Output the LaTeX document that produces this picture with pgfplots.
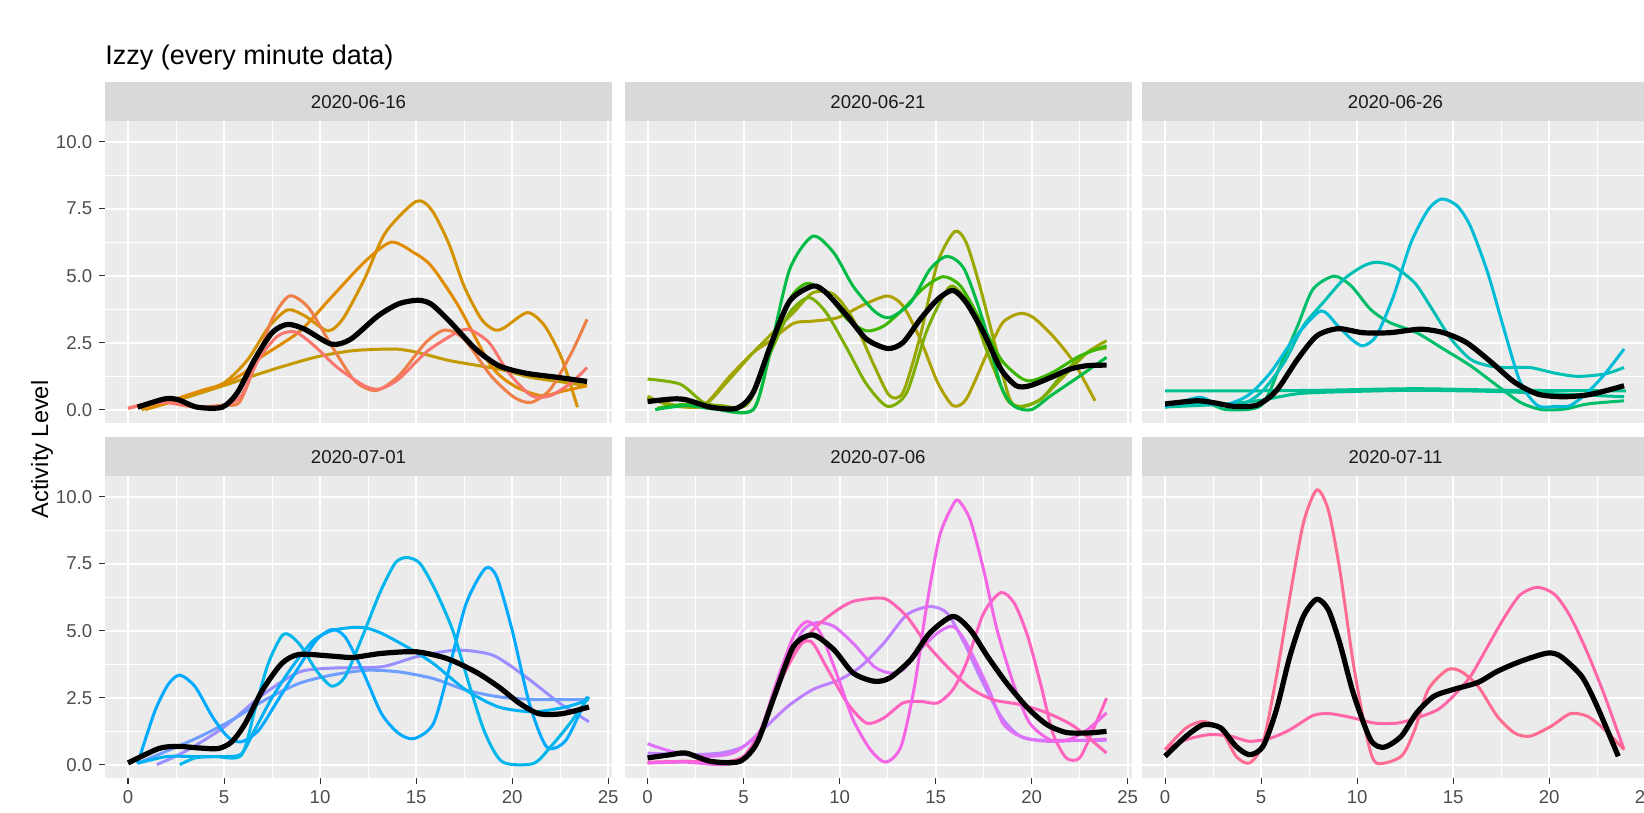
\documentclass[border=0pt]{standalone}
\usepackage{fontspec}
\setmainfont{Liberation Sans}
\usepackage{pgfplots}
\pgfplotsset{compat=1.18}

\definecolor{panelbg}{HTML}{EBEBEB}
\definecolor{stripbg}{HTML}{D9D9D9}
\definecolor{ticktxt}{HTML}{4D4D4D}
\definecolor{tickgray}{HTML}{333333}
\definecolor{striptxt}{HTML}{1A1A1A}
% panel 1
\definecolor{c11}{HTML}{F8766D}
\definecolor{c12}{HTML}{EE7F47}
\definecolor{c13}{HTML}{E08B00}
\definecolor{c14}{HTML}{D49200}
\definecolor{c15}{HTML}{C39B00}
% panel 2
\definecolor{c21}{HTML}{AEA200}
\definecolor{c22}{HTML}{99A800}
\definecolor{c23}{HTML}{7CAE00}
\definecolor{c24}{HTML}{3DB600}
\definecolor{c25}{HTML}{00BB45}
% panel 3
\definecolor{c31}{HTML}{00BE6C}
\definecolor{c32}{HTML}{00C091}
\definecolor{c33}{HTML}{00C0B5}
\definecolor{c34}{HTML}{00BCD6}
% panel 4
\definecolor{c41}{HTML}{00B6EB}
\definecolor{c42}{HTML}{00AAFE}
\definecolor{c43}{HTML}{00B1F3}
\definecolor{c44}{HTML}{6E9EFF}
\definecolor{c45}{HTML}{9A8FFF}
% panel 5
\definecolor{c51}{HTML}{F365E6}
\definecolor{c52}{HTML}{FF62BF}
\definecolor{c53}{HTML}{FF63B5}
\definecolor{c54}{HTML}{BE80FF}
\definecolor{c55}{HTML}{DE71F8}
% panel 6
\definecolor{c61}{HTML}{FF6C91}
\definecolor{c62}{HTML}{FF66A8}

\pgfplotsset{
  facet/.style={
    scale only axis, width=253.5pt, height=151pt,
    xmin=-1.2, xmax=25.2, ymin=-0.5, ymax=10.77,
    axis line style={draw=none},
    axis background/.style={fill=panelbg},
    xtick={0,5,10,15,20,25}, ytick={0,2.5,5,7.5,10},
    minor xtick={2.5,7.5,12.5,17.5,22.5},
    minor ytick={1.25,3.75,6.25,8.75},
    grid=both,
    major grid style={draw=white, line width=1.0pt},
    minor grid style={draw=white, line width=0.55pt},
    minor tick length=0pt,
    major tick length=2.9pt,
    tick align=outside,
    xtick pos=left, ytick pos=left,
    xtick style={draw=none}, ytick style={draw=none},
    xticklabels={}, yticklabels={},
    tick label style={font=\fontsize{9.3}{11}\selectfont, text=ticktxt},
    /pgf/number format/assume math mode=true,
    clip=true,
  },
  ylab/.style={yticklabels={0.0,2.5,5.0,7.5,10.0},
    ytick style={draw=tickgray, line width=0.55pt}},
  xlab/.style={xticklabels={0,5,10,15,20,25},
    xtick style={draw=tickgray, line width=0.55pt}},
  ser/.style={color=#1, line width=1.5pt, smooth, tension=0.45, no markers, line join=round},
  meanline/.style={color=black, line width=2.6pt, smooth, tension=0.45, no markers, line join=round},
}

\newcommand{\strip}[3]{%
  \fill[stripbg] (#1,#2) rectangle ($(#1,#2)+(253.5pt,-19.5pt)$);
  \node[font=\fontsize{9.3}{11}\selectfont, text=striptxt] at ($(#1,#2)+(126.75pt,-9.9pt)$) {#3};
}
\usetikzlibrary{calc}

\begin{document}
\begin{tikzpicture}
\path[use as bounding box] (0pt,0pt) rectangle (822pt,-406.5pt);
\clip (0pt,0pt) rectangle (822pt,-406.5pt);

\node[anchor=base west, font=\fontsize{13.5}{16}\selectfont, inner sep=0pt] at (52.5pt,-32.5pt) {Izzy (every minute data)};
\node[rotate=90, font=\fontsize{11.8}{14}\selectfont, inner sep=0pt] at (21pt,-224.75pt) {Activity Level};

\strip{52.5pt}{-41pt}{2020-06-16}
\strip{312.25pt}{-41pt}{2020-06-21}
\strip{571pt}{-41pt}{2020-06-26}
\strip{52.5pt}{-218.5pt}{2020-07-01}
\strip{312.25pt}{-218.5pt}{2020-07-06}
\strip{571pt}{-218.5pt}{2020-07-11}

% ---------- Panel 1: 2020-06-16
\begin{axis}[facet, ylab, at={(52.5pt,-60.5pt)}, anchor=north west]
\addplot[ser=c15] coordinates {(0.9,0)(2.8,0.4)(5,0.9)(6.25,1.2)(8,1.6)(9.9,1.98)(11.6,2.19)(13,2.25)(14.1,2.25)(15.1,2.13)(16.8,1.82)(19.3,1.51)(21,1.2)(22.7,1.02)(23.9,0.89)};
\addplot[ser=c14] coordinates {(0.7,0.0)(2,0.25)(3.5,0.6)(5,1.0)(6.25,1.88)(7.3,3.06)(8.3,3.72)(9.2,3.5)(10.4,2.94)(11.2,3.4)(12.3,4.86)(13.4,6.6)(15,7.77)(15.8,7.46)(16.7,6.2)(17.5,4.6)(18.4,3.37)(19.1,2.97)(19.6,3.06)(20.8,3.62)(21.7,3.12)(22.6,1.88)(23.4,0.09)};
\addplot[ser=c13] coordinates {(0.9,0.02)(2.5,0.4)(4,0.75)(5,0.95)(6.1,1.4)(6.8,1.9)(8.9,2.9)(10.6,4.2)(12.3,5.5)(13.7,6.25)(14.9,5.85)(15.8,5.35)(17.2,3.87)(18.9,1.64)(20.1,0.89)(21.5,0.52)(22.7,0.7)(23.9,0.89)};
\addplot[ser=c12] coordinates {(0,0.05)(1.6,0.33)(2.6,0.2)(3.6,0.09)(5,0.17)(5.8,0.27)(6.6,1.64)(7.5,3.37)(8.4,4.24)(9.4,3.8)(10.6,2.38)(11.8,1.08)(12.9,0.71)(14.1,1.26)(15.5,2.5)(16.5,2.97)(17.5,2.63)(18.9,1.26)(20.1,0.46)(21.0,0.27)(22.0,0.77)(23.1,2.13)(23.9,3.37)};
\addplot[ser=c11] coordinates {(0,0.05)(1,0.2)(1.9,0.27)(3,0.15)(3.6,0.1)(5,0.15)(5.9,0.52)(6.8,1.88)(7.8,2.75)(8.7,2.9)(9.7,2.38)(10.9,1.57)(12.3,0.89)(13.1,0.77)(14.1,1.14)(15.5,2.13)(16.8,2.75)(17.7,3.0)(18.8,2.5)(19.8,1.39)(21.0,0.52)(22,0.52)(23.1,1.02)(23.9,1.57)};
\addplot[meanline] coordinates {(0.5,0.09)(1.9,0.4)(2.6,0.37)(3.6,0.09)(4.9,0.09)(5.7,0.64)(6.6,1.88)(7.5,2.87)(8.3,3.18)(9.2,3.0)(10.6,2.44)(11.6,2.63)(13.0,3.49)(14.1,3.95)(15.1,4.08)(15.8,3.93)(16.8,3.25)(18.1,2.26)(19.3,1.64)(20.7,1.36)(22.4,1.2)(23.9,1.05)};
\end{axis}

% ---------- Panel 2: 2020-06-21
\begin{axis}[facet, at={(312.25pt,-60.5pt)}, anchor=north west]
\addplot[ser=c21] coordinates {(0,0.45)(1.5,0.15)(2.9,0.15)(4.3,1.26)(5.5,2.13)(6.4,2.57)(7.6,3.22)(8.6,3.3)(9.9,3.43)(11.3,3.93)(12.5,4.24)(13.3,3.87)(14.2,2.63)(15.1,1.02)(15.9,0.15)(16.6,0.4)(17.7,2.13)(18.5,3.25)(19.4,3.59)(20.1,3.43)(21.1,2.75)(22.2,1.76)(23.3,0.33)};
\addplot[ser=c22] coordinates {(0,0.5)(1.2,0.15)(2.9,0.15)(4.1,1.0)(5.5,2.13)(6.7,3.0)(7.6,3.62)(8.6,4.36)(9.7,4.3)(10.7,3.37)(11.8,1.64)(12.6,0.52)(13.3,0.64)(14.2,2.75)(15.1,5.48)(16.0,6.65)(16.6,6.22)(17.3,4.61)(18.2,2.13)(18.9,0.33)(19.6,0.12)(20.5,0.4)(21.7,1.26)(22.9,2.13)(23.9,2.57)};
\addplot[ser=c23] coordinates {(0,1.14)(1.7,0.95)(2.9,0.27)(3.8,0.15)(5.2,0.2)(6.4,2.13)(7.4,3.62)(8.4,4.18)(9.3,3.62)(10.4,2.26)(11.4,0.95)(12.5,0.12)(13.5,0.64)(14.5,2.87)(15.4,4.24)(15.9,4.61)(16.8,3.87)(17.7,2.13)(18.7,0.4)(19.4,0.12)(20.5,0.4)(21.7,1.39)(22.9,2.13)(23.9,2.3)};
\addplot[ser=c24] coordinates {(0.5,0.05)(2,0.2)(3.5,0.05)(5.5,0)(6.4,2.13)(7.4,4.11)(8.3,4.71)(9.3,4.36)(10.4,3.37)(11.4,2.94)(12.3,3.12)(13.3,3.74)(14.4,4.55)(15.4,4.96)(16.3,4.61)(17.3,3.37)(18.4,1.88)(19.4,1.2)(20,1.08)(21.1,1.39)(22.5,2.0)(23.9,2.38)};
\addplot[ser=c25] coordinates {(0.4,0)(2,0.15)(3.5,0.02)(5.5,0)(6.4,2.26)(7.4,5.23)(8.6,6.47)(9.7,5.85)(10.7,4.61)(11.8,3.68)(12.6,3.43)(13.7,3.99)(14.7,5.23)(15.6,5.72)(16.5,5.23)(17.5,3.25)(18.4,0.89)(19.1,0.12)(20,0)(21,0.52)(22.4,1.2)(23.9,1.95)};
\addplot[meanline] coordinates {(0,0.3)(1.35,0.4)(2.05,0.36)(3.3,0.09)(4.65,0.05)(5.5,0.64)(6.4,2.38)(7.4,4.05)(8.6,4.61)(9.3,4.36)(10.4,3.49)(11.4,2.63)(12.5,2.28)(13.3,2.5)(14.2,3.37)(15.1,4.11)(15.9,4.45)(16.6,3.99)(17.5,2.87)(18.4,1.51)(19.2,0.89)(19.9,0.89)(21.0,1.2)(22.0,1.51)(22.9,1.64)(23.9,1.66)};
\end{axis}

% ---------- Panel 3: 2020-06-26
\begin{axis}[facet, at={(571pt,-60.5pt)}, anchor=north west]
\addplot[ser=c31] coordinates {(0,0.09)(2,0.27)(3.2,0)(5,0.15)(6,1.64)(6.9,3.12)(7.7,4.49)(8.8,4.98)(9.7,4.61)(10.7,3.74)(11.7,3.25)(13.1,2.87)(14.5,2.26)(15.9,1.64)(17.3,0.89)(18.5,0.27)(19.6,0)(20.8,0.02)(22,0.21)(23.9,0.33)};
\addplot[ser=c32] coordinates {(0,0.7)(4,0.7)(8,0.72)(13,0.78)(18,0.72)(24,0.7)};
\addplot[ser=c32] coordinates {(0,0.1)(3,0.2)(5,0.35)(7,0.6)(10,0.68)(13,0.72)(17,0.68)(20,0.6)(23.9,0.48)};
\addplot[ser=c33] coordinates {(0,0.15)(2,0.2)(3.8,0.15)(5,0.64)(6.2,1.76)(7.2,3.12)(8.3,4.05)(9.3,4.86)(10.3,5.35)(11,5.5)(11.9,5.35)(13,4.73)(13.8,3.87)(14.9,2.63)(15.9,1.88)(16.8,1.64)(17.7,1.57)(19,1.57)(20.3,1.36)(21.5,1.24)(22.9,1.33)(23.9,1.57)};
\addplot[ser=c34] coordinates {(0,0.09)(1.8,0.46)(2.9,0.15)(4.3,0.52)(5.5,1.39)(6.7,2.63)(8.1,3.68)(9,3.12)(9.7,2.63)(10.3,2.38)(11,2.75)(11.9,4.24)(12.8,6.22)(13.7,7.46)(14.4,7.86)(15.2,7.61)(15.9,6.84)(16.8,5.11)(17.7,2.87)(18.5,1.02)(19.4,0.15)(20.4,0.12)(21.1,0.15)(22,0.64)(22.9,1.33)(23.9,2.26)};
\addplot[meanline] coordinates {(0,0.21)(1.65,0.33)(2.6,0.25)(3.6,0.12)(4.8,0.17)(5.8,0.71)(6.9,1.88)(7.9,2.75)(9,3.02)(10.3,2.87)(11.7,2.87)(13.3,3.0)(14.5,2.87)(15.7,2.5)(17,1.76)(18.2,1.02)(19.4,0.58)(20.6,0.48)(21.7,0.52)(22.5,0.62)(23.9,0.89)};
\end{axis}

% ---------- Panel 4: 2020-07-01
\begin{axis}[facet, ylab, xlab, at={(52.5pt,-238pt)}, anchor=north west]
\addplot[ser=c45] coordinates {(1.5,0)(3,0.5)(5,1.4)(7,2.6)(8.9,3.45)(10.6,3.6)(13.2,3.65)(15,4.02)(17.1,4.27)(19,4.08)(20.7,3.28)(22.5,2.28)(24,1.6)};
\addplot[ser=c44] coordinates {(0.5,0.05)(2,0.5)(3.7,1.03)(5.4,1.66)(7.1,2.4)(8.9,3.03)(10.6,3.34)(12.4,3.52)(14.1,3.46)(15.9,3.21)(17.6,2.78)(19.3,2.53)(21.1,2.43)(24,2.43)};
\addplot[ser=c43] coordinates {(0.5,0.05)(2,0.3)(3.5,0.3)(5,0.3)(5.9,0.4)(6.6,1.3)(7.5,2.5)(8.5,3.6)(9.6,4.6)(10.6,5.0)(11.7,5.12)(12.4,5.1)(13.2,4.9)(14.5,4.4)(15.9,3.77)(17.6,2.78)(19.3,2.15)(21.1,1.97)(22.8,2.15)(23.9,2.4)};
\addplot[ser=c42] coordinates {(0.5,0.04)(1.4,2.0)(2.1,3.0)(2.7,3.34)(3.5,2.9)(4.4,1.78)(5.2,1.03)(5.9,0.85)(6.8,1.28)(7.8,2.4)(8.9,3.65)(9.8,4.64)(10.6,5.04)(11.3,4.77)(12.2,3.52)(13.2,1.9)(14.1,1.16)(14.9,0.97)(15.9,1.53)(16.7,3.52)(17.6,6.0)(18.6,7.32)(19.2,7.0)(20,5.02)(20.9,2.28)(21.8,0.66)(22.8,0.91)(23.9,2.53)};
\addplot[ser=c41] coordinates {(2.7,0)(3.5,0.25)(4.5,0.3)(5.9,0.35)(6.6,2.03)(7.3,3.77)(8.1,4.87)(8.9,4.52)(9.8,3.52)(10.6,2.93)(11.3,3.28)(12.2,4.77)(13.1,6.39)(13.9,7.51)(14.5,7.73)(15.2,7.51)(16,6.51)(16.9,5.02)(17.8,2.9)(18.6,1.16)(19.5,0.1)(21.1,0.04)(22,0.66)(23,1.53)(24,2.53)};
\addplot[meanline] coordinates {(0,0.06)(1.6,0.6)(2.6,0.68)(3.7,0.62)(4.7,0.6)(5.4,0.85)(6.1,1.53)(7,2.78)(8,3.77)(8.9,4.11)(10.6,4.05)(11.7,4.0)(13.2,4.15)(15,4.21)(16.6,3.96)(18.1,3.46)(19.3,2.9)(20.4,2.28)(21.4,1.9)(22.6,1.9)(24,2.15)};
\end{axis}

% ---------- Panel 5: 2020-07-06
\begin{axis}[facet, xlab, at={(312.25pt,-238pt)}, anchor=north west]
\addplot[ser=c54] coordinates {(0,0.43)(2,0.37)(3.8,0.43)(5,0.68)(6,1.3)(7.3,2.17)(8.6,2.8)(10,3.17)(11.1,3.66)(12.3,4.53)(13.5,5.59)(14.7,5.9)(15.6,5.65)(16.5,4.53)(17.3,3.29)(18.4,1.8)(19.4,1.06)(20.5,0.91)(23.9,0.91)};
\addplot[ser=c55] coordinates {(0,0.78)(1.2,0.5)(2.9,0.31)(4.5,0.45)(5.9,1.3)(6.9,3.04)(8,4.91)(8.8,5.3)(9.7,5.16)(10.7,4.53)(11.8,3.66)(12.6,3.42)(13.3,3.54)(14.2,4.29)(15.1,4.91)(15.9,5.16)(16.6,4.53)(17.7,2.92)(18.5,1.55)(19.4,1.06)(20.8,0.87)(23.9,0.95)};
\addplot[ser=c53] coordinates {(0,0.09)(2,0.12)(3.8,0.09)(5,0.31)(5.9,1.3)(6.7,2.8)(7.8,4.29)(8.8,5.16)(9.9,5.78)(10.7,6.09)(11.8,6.21)(12.5,6.15)(13.5,5.53)(14.5,4.53)(15.6,3.66)(16.8,2.86)(18,2.42)(19.4,2.24)(20.8,1.93)(22.2,1.43)(23.9,0.43)};
\addplot[ser=c52] coordinates {(0,0.06)(2,0.12)(3.8,0.06)(5,0.21)(5.9,1.18)(6.7,2.8)(7.6,4.29)(8.5,4.6)(9.3,3.66)(10.4,2.3)(11.4,1.55)(12.3,1.74)(13.3,2.3)(14.2,2.36)(15.1,2.3)(15.9,2.8)(16.6,3.79)(17.5,5.65)(18.4,6.42)(19.1,6.02)(19.8,4.78)(20.5,2.92)(21.1,1.18)(21.8,0.25)(22.5,0.25)(23.2,1.3)(23.9,2.48)};
\addplot[ser=c51] coordinates {(0,0.06)(2,0.09)(3.8,0)(5,0.19)(5.9,1.3)(6.7,3.04)(7.6,4.78)(8.3,5.34)(9.0,4.91)(9.9,3.29)(10.7,1.68)(11.6,0.56)(12.4,0.09)(13.2,0.68)(13.9,2.92)(14.5,5.78)(15.2,8.51)(15.9,9.69)(16.2,9.85)(16.8,9.13)(17.5,7.27)(18.2,5.03)(19.1,2.92)(19.9,1.55)(21,0.91)(22,0.95)(22.9,1.3)(23.9,1.93)};
\addplot[meanline] coordinates {(0,0.25)(1.2,0.37)(2,0.43)(3.3,0.12)(4.8,0.12)(5.7,0.81)(6.6,2.55)(7.6,4.41)(8.6,4.84)(9.7,4.29)(10.7,3.42)(11.8,3.11)(12.6,3.23)(13.7,3.91)(14.7,4.91)(15.9,5.53)(16.8,5.03)(17.7,4.04)(18.7,3.04)(19.8,2.11)(20.8,1.49)(21.8,1.2)(22.9,1.18)(23.9,1.24)};
\end{axis}

% ---------- Panel 6: 2020-07-11
\begin{axis}[facet, xlab, at={(571pt,-238pt)}, anchor=north west]
\addplot[ser=c62] coordinates {(0,0.56)(1.1,0.93)(2.3,1.12)(3.4,1.06)(4.4,0.87)(5.5,0.99)(6.5,1.3)(7.7,1.83)(8.6,1.9)(9.8,1.74)(10.9,1.55)(12.1,1.55)(13.1,1.74)(14.2,2.05)(15,2.55)(15.9,3.29)(16.8,4.41)(17.7,5.53)(18.5,6.34)(19.4,6.62)(20.3,6.34)(21.1,5.53)(22,4.16)(22.9,2.55)(23.9,0.56)};
\addplot[ser=c61] coordinates {(0,0.56)(1.1,1.37)(2,1.61)(2.9,1.3)(3.7,0.31)(4.4,0.06)(5.1,0.81)(5.8,3.29)(6.5,6.27)(7.2,9.0)(7.9,10.25)(8.5,9.5)(9.1,7.27)(9.8,3.79)(10.5,1.06)(11.0,0.06)(12.3,0.31)(13,1.3)(13.7,2.8)(14.7,3.54)(15.4,3.48)(16.3,2.92)(17.3,1.8)(18.2,1.18)(19,1.06)(20.1,1.43)(21.1,1.9)(22,1.8)(22.9,1.3)(23.9,0.56)};
\addplot[meanline] coordinates {(0,0.31)(1.1,1.06)(2,1.49)(2.9,1.37)(3.7,0.68)(4.4,0.37)(5.1,0.68)(5.8,2.05)(6.5,4.04)(7.2,5.53)(7.9,6.17)(8.5,5.78)(9.1,4.53)(9.8,2.67)(10.7,0.93)(11.4,0.65)(12.3,1.06)(13.1,1.93)(14,2.55)(15,2.8)(16.3,3.07)(17.3,3.48)(18.5,3.85)(19.9,4.16)(20.6,4.04)(21.7,3.29)(22.5,2.17)(23.6,0.31)};
\end{axis}
\end{tikzpicture}
\end{document}
